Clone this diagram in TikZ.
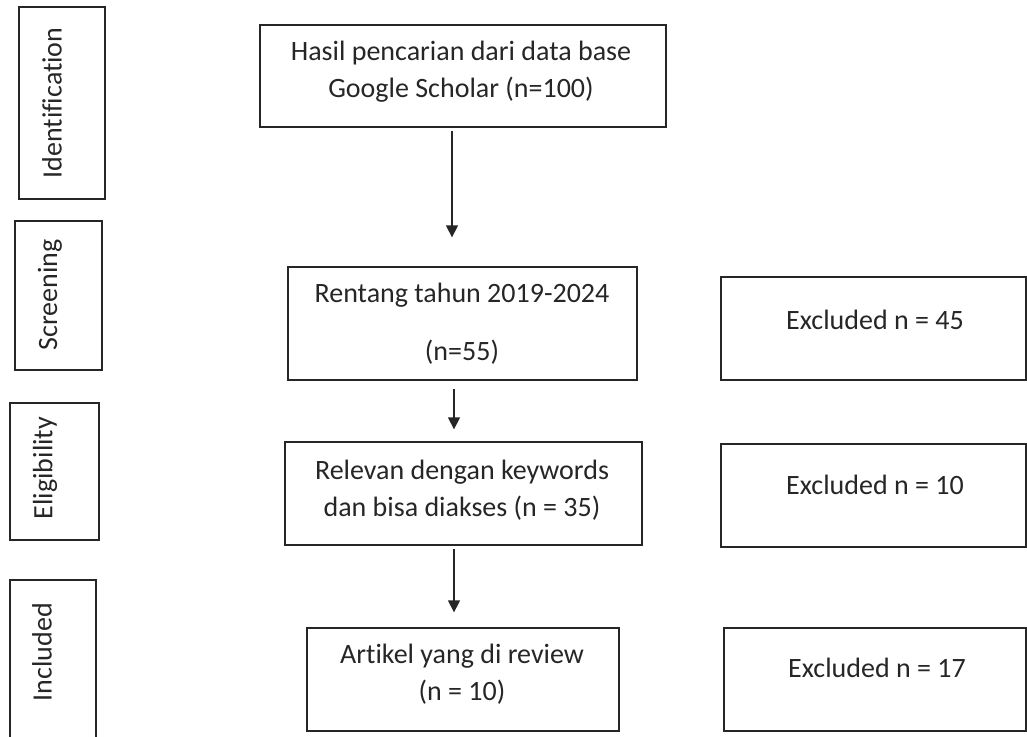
\documentclass[tikz,border=0pt]{standalone}
\usepackage{fontspec}
\setmainfont[Ligatures=NoCommon]{Carlito}
\usetikzlibrary{arrows.meta}
\begin{document}
\begin{tikzpicture}[x=1pt,y=-1pt,
  box/.style={draw=black!85, line width=1.3pt, inner sep=0pt},
  txt/.style={inner sep=0pt, text=black!85, font=\fontsize{28}{37}\selectfont, align=center},
  arr/.style={draw=black!85, line width=1.3pt, -{Triangle[width=12pt,length=12pt]}}]
\useasboundingbox (0,0) rectangle (1027,736);
% stage boxes
\node[box, minimum width=86pt, minimum height=192pt] (sid) at (62,103) {};
\node[box, minimum width=87pt, minimum height=149pt] (sscr) at (58.5,295.5) {};
\node[box, minimum width=89pt, minimum height=137pt] (selig) at (54.5,471.5) {};
\node[box, minimum width=86pt, minimum height=170pt] (sinc) at (53,665) {};
\node[txt, rotate=90] (tid) at (52,103) {Identification};
\node[txt, rotate=90] (tscr) at (50,295) {Screening};
\node[txt, rotate=90] (telig) at (45,468) {Eligibility};
\node[txt, rotate=90] (tinc) at (42,652) {Included};
% main column
\node[box, minimum width=406pt, minimum height=102pt] (top) at (463,76) {};
\node[txt] (ttop) at (461,72) {Hasil pencarian dari data base\\Google Scholar (n=100)};
\node[box, minimum width=349pt, minimum height=113pt] (ren) at (462.5,323.5) {};
\node[txt] (tren) at (462,324) {Rentang tahun 2019-2024\\[21pt](n=55)};
\node[box, minimum width=357pt, minimum height=103pt] (rel) at (463.5,493.5) {};
\node[txt] (trel) at (462,490) {Relevan dengan keywords\\dan bisa diakses (n = 35)};
\node[box, minimum width=312pt, minimum height=103pt] (art) at (463,679.5) {};
\node[txt] (tart) at (462,674) {Artikel yang di review\\(n = 10)};
% excluded
\node[box, minimum width=305pt, minimum height=103pt] (ex1) at (873.5,328.5) {};
\node[txt] (tex1) at (875,320) {Excluded n = 45};
\node[box, minimum width=305pt, minimum height=103pt] (ex2) at (873.5,495.5) {};
\node[txt] (tex2) at (875,485) {Excluded n = 10};
\node[box, minimum width=302pt, minimum height=103pt] (ex3) at (875,679.5) {};
\node[txt] (tex3) at (877,668) {Excluded n = 17};
% arrows
\coordinate (ax1) at (452,0);
\coordinate (ax2) at (454,0);
\draw[arr] ([yshift=-3pt]top.south -| ax1) -- ([yshift=29pt]ren.north -| ax1);
\draw[arr] ([yshift=-8pt]ren.south -| ax2) -- ([yshift=12pt]rel.north -| ax2);
\draw[arr] ([yshift=-3pt]rel.south -| ax2) -- ([yshift=15pt]art.north -| ax2);
\end{tikzpicture}
\end{document}
